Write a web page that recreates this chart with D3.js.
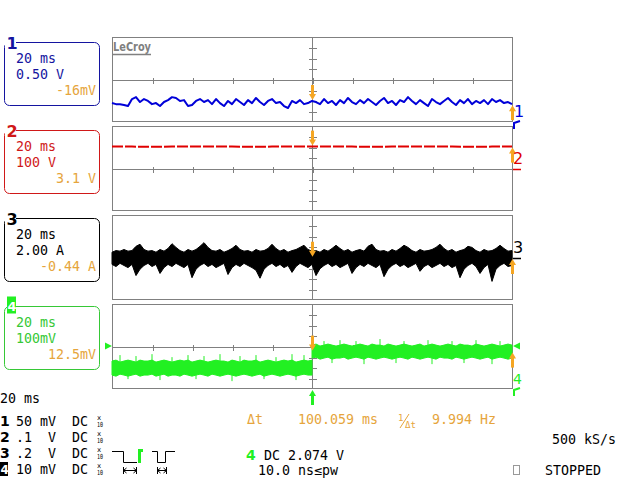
<!DOCTYPE html>
<html><head><meta charset="utf-8">
<script src="https://cdn.jsdelivr.net/npm/d3@7"></script>
<style>
html,body{margin:0;padding:0;background:#fff;}
svg{display:block;}
text{font-family:"DejaVu Sans Mono",monospace;font-size:13.3px;white-space:pre;}
</style></head><body>
<svg id="c" width="640" height="480"></svg>
<script>
// ---------------- DATA ----------------
const chNames = ["1","2","3","4"];
const chTimebase = ["20 ms","20 ms","20 ms","20 ms"];
const chScaleText = ["0.50 V","100 V","2.00 A","100mV"];
const chOffsetText = ["-16mV","3.1 V","-0.44 A","12.5mV"];
const chPerDiv = [0.5, 100, 2, 100];          // V, V, A, mV per division
const msPerDiv = 20;
const sampleTimes = d3.range(-100, 101, 2);    // ms, 101 samples
const ch2Times = d3.range(-100, 101, 10);      // ms
const ch4TimesBefore = d3.range(-100, 1, 2);
const ch4TimesAfter = d3.range(0, 101, 2);

// channel 1 (V)
const ch1 = [
-1.11,-1.16,-1.16,-1.20,-1.25,-0.92,-0.83,-1.06,-0.92,-1.01,
-1.16,-1.11,-1.25,-1.06,-0.97,-0.83,-0.87,-1.01,-0.97,-1.25,
-1.20,-1.01,-0.92,-1.06,-0.97,-1.16,-0.92,-1.11,-1.25,-1.01,
-1.16,-0.92,-1.06,-1.20,-0.97,-1.11,-0.87,-1.06,-1.20,-1.01,
-0.92,-1.11,-1.06,-1.25,-1.34,-1.01,-1.11,-0.97,-1.16,-1.11,
-1.01,-1.06,-1.16,-0.92,-1.11,-1.01,-1.20,-0.97,-1.11,-0.87,
-1.06,-1.16,-0.97,-1.11,-0.92,-1.06,-1.20,-1.01,-0.87,-1.11,
-1.01,-1.20,-0.97,-1.06,-0.83,-1.01,-1.16,-0.97,-1.11,-1.25,
-0.92,-1.06,-1.16,-1.01,-0.87,-1.06,-1.20,-0.97,-1.11,-0.92,
-1.16,-1.01,-1.11,-0.97,-1.16,-0.92,-1.06,-0.97,-1.11,-1.06,
-1.16];
// channel 2 (V)
const ch2 = [206,206,205,206,207,206,206,205,206,206,206,207,206,205,206,206,206,206,205,206,206];
// channel 3 (A) envelope
const ch3Upper = [
1.0,1.3,1.2,1.5,1.2,1.3,2.1,2.5,1.5,1.2,
1.3,1.0,1.5,1.2,1.7,2.6,1.9,1.3,1.0,1.5,
1.2,1.5,2.1,2.8,1.9,1.3,1.2,1.5,1.0,1.3,
1.7,2.3,1.5,1.2,1.3,1.0,1.5,1.2,1.3,1.7,
2.5,1.7,1.2,1.5,1.0,1.3,1.5,1.9,2.3,1.5,
1.2,1.3,1.0,1.5,1.2,1.7,2.3,1.7,1.2,1.5,
1.0,1.3,1.5,1.2,2.1,2.5,1.5,1.2,1.3,1.0,
1.5,1.2,1.7,2.3,1.9,1.3,1.0,1.5,1.2,1.3,
1.5,1.9,2.5,1.7,1.2,1.5,1.0,1.3,1.5,2.1,
1.9,1.3,1.0,1.5,1.2,1.3,1.7,2.3,1.7,1.2,
1.3];
const ch3Lower = [
-1.3,-1.7,-1.1,-1.5,-1.9,-1.3,-3.4,-2.2,-1.5,-1.1,
-1.7,-1.3,-3.0,-1.9,-1.3,-1.7,-1.1,-1.5,-1.9,-1.3,
-3.8,-2.2,-1.5,-1.1,-1.7,-1.3,-1.9,-1.5,-1.1,-3.2,
-1.9,-1.3,-1.7,-1.1,-1.5,-1.9,-2.4,-3.9,-2.2,-1.5,
-1.1,-1.7,-1.3,-1.9,-1.5,-2.8,-1.7,-1.1,-1.5,-1.9,
-1.3,-3.4,-2.1,-1.5,-1.1,-1.7,-1.3,-1.9,-1.5,-1.1,
-3.0,-1.9,-1.3,-1.7,-1.1,-1.5,-1.9,-1.3,-3.6,-2.2,
-1.5,-1.1,-1.7,-1.3,-1.9,-1.5,-1.1,-2.6,-1.7,-1.3,
-1.9,-1.5,-1.1,-1.7,-1.3,-1.9,-1.5,-3.8,-2.2,-1.5,
-1.1,-1.7,-3.0,-1.9,-1.3,-4.5,-2.2,-1.5,-1.1,-1.7,
-1.5];
// channel 4 (mV) envelope before / after trigger
const ch4UpperBefore = [
-137,-128,-147,-137,-128,-137,-147,-128,-137,-137,
-128,-147,-137,-128,-137,-147,-137,-128,-137,-128,
-147,-137,-128,-137,-147,-137,-128,-137,-137,-147,
-128,-137,-147,-128,-137,-137,-128,-147,-137,-128,
-137,-147,-137,-128,-137,-128,-147,-137,-128,-137,-128];
const ch4LowerBefore = [
-269,-279,-260,-269,-279,-269,-260,-279,-269,-269,
-260,-279,-269,-260,-279,-269,-269,-279,-260,-269,
-279,-269,-260,-269,-279,-260,-269,-279,-269,-260,
-269,-279,-269,-260,-269,-279,-269,-260,-279,-269,
-260,-269,-279,-269,-260,-269,-279,-269,-260,-269,-269];
const ch4UpperAfter = [
13,23,4,13,23,13,4,13,23,13,
4,13,23,13,4,23,13,13,4,23,
13,4,13,23,13,4,13,23,4,13,
23,13,4,13,23,13,4,23,13,13,
4,23,13,4,13,23,13,4,13,23,13];
const ch4LowerAfter = [
-109,-100,-119,-109,-100,-119,-109,-109,-100,-119,
-109,-100,-109,-119,-100,-109,-119,-109,-100,-109,
-119,-109,-100,-109,-119,-100,-109,-119,-109,-100,
-109,-119,-100,-109,-109,-119,-100,-109,-119,-109,
-100,-109,-119,-109,-100,-119,-109,-100,-109,-119,-109];
const ch4SpikeTimes = [-96,-88,-80,-70,-62,-54,-46,-36,-28,-18,-10,-4,-92,-76,-58,-40,-24,-8,6,14,22,34,46,58,70,82,94,10,26,42,60,76,90];
const ch4SpikeValues = [-81,-90,-72,-100,-81,-90,-72,-90,-81,-100,-72,-81,-307,-316,-307,-326,-307,-316,51,60,51,70,51,60,51,60,51,-156,-166,-156,-166,-156,-166];
const ch4TrigLevel = 4; // mV
const cursorTimes = [0, 100];

const rowSens = ["50 mV", ".1  V", ".2  V", "10 mV"];
const rowCoupling = ["DC","DC","DC","DC"];
const measLabel = "Δt", measValue = "100.059 ms", freqValue = "9.994 Hz";
const sampleRate = "500 kS/s", trigText = "DC 2.074 V", pwText = "10.0 ns≤pw", stateText = "STOPPED";

// ---------------- STYLE ----------------
const GRID = "#808080";
const traceCol = ["#0000d8", "#e00000", "#000000", "#22f022"];
const textCol = ["#1414a0", "#d01818", "#000000", "#36c836"];
const ORANGE = "#f5a623", ORANGE_T = "#e6a53c";

const svg = d3.select("#c");
const X0 = 112, X1 = 512, PH = 85;
const panelTops = [37, 126, 215, 304];
const x = d3.scaleLinear().domain([-5*msPerDiv, 5*msPerDiv]).range([X0, X1]);
const ys = panelTops.map((t, i) => d3.scaleLinear().domain([-4*chPerDiv[i], 4*chPerDiv[i]]).range([t+PH, t]));

// ---------------- GRID ----------------
panelTops.forEach((t, i) => {
  const g = svg.append("g").attr("shape-rendering", "crispEdges");
  g.append("rect").attr("x", X0+0.5).attr("y", t+0.5).attr("width", X1-X0).attr("height", PH-1)
    .attr("fill", "none").attr("stroke", GRID);
  const cy = Math.round(ys[i](0)) + 0.5;
  g.append("line").attr("x1", X0).attr("x2", X1).attr("y1", cy).attr("y2", cy).attr("stroke", GRID);
  g.append("line").attr("x1", x(0)+0.5).attr("x2", x(0)+0.5).attr("y1", t).attr("y2", t+PH).attr("stroke", GRID);
  const ax = d3.axisBottom(x).tickValues(d3.range(-4, 5).map(k => k*msPerDiv)).tickSize(6).tickFormat("");
  const ag = g.append("g").attr("transform", `translate(0.5,${cy-3})`).call(ax);
  ag.select(".domain").remove();
  ag.selectAll("line").attr("stroke", GRID);
  const ay = d3.axisRight(ys[i]).tickValues(d3.range(-3, 4).map(k => k*chPerDiv[i])).tickSize(8).tickFormat("");
  const ayg = g.append("g").attr("transform", `translate(${x(0)-3.5},0.5)`).call(ay);
  ayg.select(".domain").remove();
  ayg.selectAll("line").attr("stroke", GRID);
});

// LeCroy logo
svg.append("text").attr("x", 113).attr("y", 51).text("LeCroy")
  .style("font-family", "'DejaVu Sans',sans-serif").style("font-weight", "bold").style("font-size", "12px")
  .attr("textLength", 38).attr("lengthAdjust", "spacingAndGlyphs").attr("fill", GRID);
svg.append("line").attr("x1", 113).attr("x2", 151).attr("y1", 54.5).attr("y2", 54.5).attr("stroke", GRID).attr("stroke-width", 1.5);

// ---------------- TRACES ----------------
svg.append("path").datum(ch1)
  .attr("d", d3.line().x((d, i) => x(sampleTimes[i])).y(d => ys[0](d)))
  .attr("fill", "none").attr("stroke", traceCol[0]).attr("stroke-width", 2).attr("stroke-linejoin", "round");

svg.append("path").datum(ch2)
  .attr("d", d3.line().x((d, i) => x(ch2Times[i])).y(d => ys[1](d)))
  .attr("fill", "none").attr("stroke", traceCol[1]).attr("stroke-width", 2).attr("stroke-dasharray", "11,2");

const area3 = d3.area().x((d, i) => x(sampleTimes[i])).y0((d, i) => ys[2](ch3Lower[i])).y1(d => ys[2](d));
svg.append("path").datum(ch3Upper).attr("d", area3).attr("fill", traceCol[2]).attr("stroke", traceCol[2]).attr("stroke-width", 1);

function band4(times, up, lo) {
  const a = d3.area().x((d, i) => x(times[i])).y0((d, i) => ys[3](lo[i])).y1(d => ys[3](d));
  svg.append("path").datum(up).attr("d", a).attr("fill", traceCol[3]).attr("stroke", traceCol[3]).attr("stroke-width", 1);
}
band4(ch4TimesBefore, ch4UpperBefore, ch4LowerBefore);
band4(ch4TimesAfter, ch4UpperAfter, ch4LowerAfter);
svg.append("g").selectAll("line").data(ch4SpikeTimes).join("line")
  .attr("x1", d => x(d)).attr("x2", d => x(d))
  .attr("y1", (d, i) => ys[3](ch4SpikeValues[i]))
  .attr("y2", d => {
    const mid = d < 0 ? (ch4UpperBefore[(d+100)/2] + ch4LowerBefore[(d+100)/2]) / 2
                      : (ch4UpperAfter[d/2] + ch4LowerAfter[d/2]) / 2;
    return ys[3](mid);
  })
  .attr("stroke", traceCol[3]).attr("stroke-width", 1);

// ---------------- CURSORS ----------------
function arrow(cx, tipY, dir, col, w) {     // dir: +1 arrow points down, -1 points up
  const len = 15, head = 6;
  svg.append("line").attr("x1", cx).attr("x2", cx).attr("y1", tipY - dir*len).attr("y2", tipY - dir*head + dir)
    .attr("stroke", col).attr("stroke-width", w);
  svg.append("path").attr("d", `M${cx-3.5},${tipY-dir*head}L${cx+3.5},${tipY-dir*head}L${cx},${tipY}Z`).attr("fill", col);
}
function valAt(ch, t) {
  const i = Math.round((t + 100) / 2);
  if (ch === 0) return ch1[i];
  if (ch === 1) return ch2[Math.round((t + 100) / 10)];
  if (ch === 2) return (ch3Upper[i] + ch3Lower[i]) / 2;
  const j = Math.round(t / 2);
  return (ch4UpperAfter[j] + ch4LowerAfter[j]) / 2;
}
cursorTimes.forEach((ct, k) => {
  [0, 1, 2, 3].forEach(ch => {
    const ty = ys[ch](valAt(ch, ct));
    arrow(x(ct) + 0.5, k === 0 ? ty - 1 : ty + 1, k === 0 ? 1 : -1, ORANGE, 3);
  });
});

// trigger markers
const tl = ys[3](ch4TrigLevel);
svg.append("path").attr("d", `M105,${tl-3.5}L112,${tl}L105,${tl+3.5}Z`).attr("fill", traceCol[3]);
svg.append("path").attr("d", `M520,${tl-3.5}L513,${tl}L520,${tl+3.5}Z`).attr("fill", traceCol[3]);
arrow(x(0) + 0.5, 390, -1, traceCol[3], 3);

// right-side channel markers
svg.append("text").attr("x", 514).attr("y", 117).text("1").attr("fill", traceCol[0]).style("font-family", "'DejaVu Sans'").style("font-size", "16px");
svg.append("path").attr("d", "M514,129L514,123L520,121").attr("fill", "none").attr("stroke", traceCol[0]).attr("stroke-width", 2);
svg.append("text").attr("x", 513).attr("y", 164).text("2").attr("fill", traceCol[1]).style("font-family", "'DejaVu Sans'").style("font-size", "16px");
svg.append("line").attr("x1", 513).attr("x2", 521).attr("y1", ys[1](0)+1).attr("y2", ys[1](0)+1).attr("stroke", traceCol[1]).attr("stroke-width", 1.5);
svg.append("text").attr("x", 513).attr("y", 253).text("3").attr("fill", traceCol[2]).style("font-family", "'DejaVu Sans'").style("font-size", "16px");
svg.append("line").attr("x1", 513).attr("x2", 521).attr("y1", ys[2](0)+1).attr("y2", ys[2](0)+1).attr("stroke", traceCol[2]).attr("stroke-width", 1.5);
svg.append("text").attr("x", 513).attr("y", 384).text("4").attr("fill", traceCol[3]).style("font-family", "'DejaVu Sans'").style("font-size", "14px");
svg.append("path").attr("d", "M514,396L514,390L520,388").attr("fill", "none").attr("stroke", traceCol[3]).attr("stroke-width", 2);

// ---------------- LEFT LABEL BOXES ----------------
const boxTops = [42.5, 130.5, 218.5, 306.5];
boxTops.forEach((by, i) => {
  const g = svg.append("g");
  g.append("rect").attr("x", 4.5).attr("y", by).attr("width", 95).attr("height", 63).attr("rx", 5)
    .attr("fill", "none").attr("stroke", textCol[i]).attr("stroke-width", 1);
  if (i < 3) {
    g.append("rect").attr("x", 5).attr("y", by - 7).attr("width", 11).attr("height", 14).attr("fill", "#fff");
    g.append("text").attr("x", 6.5).attr("y", by + 6).text(chNames[i]).attr("fill", textCol[i])
      .style("font-family", "'DejaVu Sans'").style("font-weight", "bold").style("font-size", "16px");
  } else {
    g.append("rect").attr("x", 7).attr("y", by - 10).attr("width", 9).attr("height", 17).attr("fill", traceCol[3]);
    g.append("text").attr("x", 7.5).attr("y", by + 4).text(chNames[i]).attr("fill", "#fff")
      .style("font-family", "'DejaVu Sans'").style("font-weight", "bold").style("font-size", "13px");
  }
  g.append("text").attr("x", 16).attr("y", by + 20).text(chTimebase[i]).attr("fill", textCol[i]);
  g.append("text").attr("x", 16).attr("y", by + 36).text(chScaleText[i]).attr("fill", textCol[i]);
  g.append("text").attr("x", 96).attr("y", by + 52).attr("text-anchor", "end").text(chOffsetText[i]).attr("fill", ORANGE_T);
});

// ---------------- BOTTOM TEXT ----------------
svg.append("text").attr("x", 0).attr("y", 403).text("20 ms");
const rowY = [426, 442, 458, 474];
rowY.forEach((ry, i) => {
  if (i < 3) {
    svg.append("text").attr("x", 0).attr("y", ry).text(chNames[i])
      .style("font-family", "'DejaVu Sans'").style("font-weight", "bold").style("font-size", "14px");
  } else {
    svg.append("rect").attr("x", 0).attr("y", ry - 12).attr("width", 8).attr("height", 14).attr("fill", "#000");
    svg.append("text").attr("x", 0.5).attr("y", ry).text(chNames[i]).attr("fill", "#fff")
      .style("font-family", "'DejaVu Sans'").style("font-weight", "bold").style("font-size", "12px");
  }
  svg.append("text").attr("x", 16).attr("y", ry).text(rowSens[i]);
  svg.append("text").attr("x", 72).attr("y", ry).text(rowCoupling[i]);
  svg.append("text").attr("x", 97).attr("y", ry - 6).text("x").style("font-size", "7px");
  svg.append("text").attr("x", 97).attr("y", ry + 1).text("10").style("font-size", "7px").attr("textLength", 6).attr("lengthAdjust", "spacingAndGlyphs");
});
// trigger pulse symbols
svg.append("path").attr("d", "M112,451.5H123.5V462.5H137").attr("fill", "none").attr("stroke", "#000").attr("stroke-width", 1);
svg.append("path").attr("d", "M139.5,463V450.5H143").attr("fill", "none").attr("stroke", traceCol[3]).attr("stroke-width", 3);
svg.append("path").attr("d", "M152,451.5H157.5V462.5H165.5V451.5H175").attr("fill", "none").attr("stroke", "#000").attr("stroke-width", 1);
function dblArrow(a, b, yy) {
  svg.append("path").attr("d", `M${a},${yy-3.5}V${yy+3.5}M${b},${yy-3.5}V${yy+3.5}M${a},${yy}H${b}M${a+3},${yy-2.5}L${a},${yy}L${a+3},${yy+2.5}M${b-3},${yy-2.5}L${b},${yy}L${b-3},${yy+2.5}`)
    .attr("fill", "none").attr("stroke", "#000").attr("stroke-width", 1);
}
dblArrow(123.5, 136.5, 470.5);
dblArrow(157.5, 166.5, 470.5);

// measurements
svg.append("text").attr("x", 247).attr("y", 424).text(measLabel).attr("fill", ORANGE_T);
svg.append("text").attr("x", 298).attr("y", 424).text(measValue).attr("fill", ORANGE_T);
svg.append("text").attr("x", 398).attr("y", 421).text("1").attr("fill", ORANGE_T).style("font-size", "9px");
svg.append("line").attr("x1", 400).attr("y1", 428).attr("x2", 409).attr("y2", 414).attr("stroke", ORANGE_T).attr("stroke-width", 1);
svg.append("text").attr("x", 405).attr("y", 428).text("Δt").attr("fill", ORANGE_T).style("font-size", "9px");
svg.append("text").attr("x", 432).attr("y", 424).text(freqValue).attr("fill", ORANGE_T);

svg.append("text").attr("x", 552).attr("y", 444).text(sampleRate);
svg.append("text").attr("x", 246).attr("y", 460).text("4").attr("fill", traceCol[3])
  .style("font-family", "'DejaVu Sans'").style("font-weight", "bold").style("font-size", "14px");
svg.append("text").attr("x", 264).attr("y", 460).text(trigText);
svg.append("text").attr("x", 258).attr("y", 475).text(pwText);
svg.append("rect").attr("x", 513.5).attr("y", 465.5).attr("width", 6).attr("height", 9).attr("fill", "none").attr("stroke", "#999");
svg.append("text").attr("x", 545).attr("y", 475).text(stateText);
</script>
</body></html>
